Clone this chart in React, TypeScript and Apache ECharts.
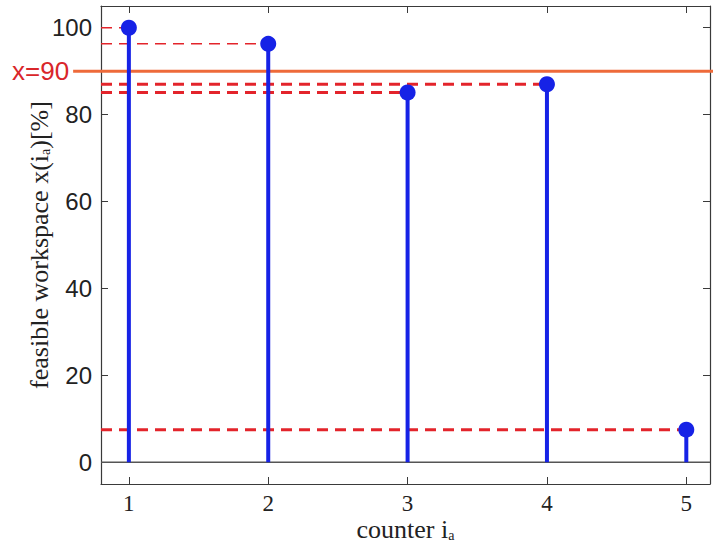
import React, { useEffect, useRef } from "react";
import * as echarts from "echarts";

const counters = [1, 2, 3, 4, 5];
const workspace = [100, 96.3, 85.1, 87.0, 7.5];
const threshold = 90;
const thresholdLabel = "x=90";
const yTicks = [0, 20, 40, 60, 80, 100];
const xTicks = [1, 2, 3, 4, 5];

const X_MIN = 0.8;
const X_MAX = 5.17;
const Y_MIN = -5;
const Y_MAX = 105;

export default function App() {
  const ref = useRef<HTMLDivElement>(null);
  useEffect(() => {
    if (!ref.current) return;
    const chart = echarts.init(ref.current, null, { renderer: "svg" });
    const axisColor = "#3a3a3a";
    const serif = "Liberation Serif";
    const sans = "Liberation Sans";

    const dashedSeries = counters.map((c, i) => ({
      type: "line",
      data: [
        [X_MIN, workspace[i]],
        [c, workspace[i]],
      ],
      symbol: "none",
      lineStyle: { color: "#e3242b", width: i < 2 ? 1.6 : 3, type: [11, 7] },
      z: 3,
      silent: true,
    }));

    const richTitle = {
      m: { fontFamily: serif, fontSize: 26, color: "#222" },
      s: { fontFamily: serif, fontSize: 14, color: "#222", padding: [12, 0, 0, 0] },
    };

    chart.setOption({
      animation: false,
      backgroundColor: "#ffffff",
      grid: { left: 101, right: 3, top: 6, bottom: 64, show: false, outerBoundsMode: "none", containLabel: false },
      xAxis: [
        {
          type: "value",
          min: X_MIN,
          max: X_MAX,
          position: "bottom",
          axisLine: { show: true, onZero: false, lineStyle: { color: axisColor, width: 1.2 } },
          axisTick: { show: true, inside: true, length: 7, customValues: xTicks, lineStyle: { color: axisColor } },
          axisLabel: {
            customValues: xTicks,
            fontFamily: serif,
            fontSize: 23,
            color: "#222",
            margin: 8,
          },
          splitLine: { show: false },
          name: "{m|counter i}{s|a}",
          nameLocation: "middle",
          nameGap: 32,
          nameMoveOverlap: false,
          nameTextStyle: { rich: richTitle },
        },
        {
          type: "value",
          min: X_MIN,
          max: X_MAX,
          position: "top",
          axisLine: { show: true, onZero: false, lineStyle: { color: axisColor, width: 1.2 } },
          axisTick: { show: true, inside: true, length: 7, customValues: xTicks, lineStyle: { color: axisColor } },
          axisLabel: { show: false },
          splitLine: { show: false },
        },
      ],
      yAxis: [
        {
          type: "value",
          min: Y_MIN,
          max: Y_MAX,
          position: "left",
          axisLine: { show: true, onZero: false, lineStyle: { color: axisColor, width: 1.2 } },
          axisTick: { show: true, inside: true, length: 7, customValues: yTicks, lineStyle: { color: axisColor } },
          axisLabel: {
            customValues: yTicks,
            fontFamily: sans,
            fontSize: 24,
            color: "#222",
            margin: 9,
          },
          splitLine: { show: false },
          name: "{m|feasible workspace x(i}{s|a}{m|)[%]}",
          nameLocation: "middle",
          nameGap: 49,
          nameRotate: 90,
          nameMoveOverlap: false,
          nameTextStyle: { rich: richTitle },
        },
        {
          type: "value",
          min: Y_MIN,
          max: Y_MAX,
          position: "right",
          axisLine: { show: true, onZero: false, lineStyle: { color: axisColor, width: 1.2 } },
          axisTick: { show: true, inside: true, length: 7, customValues: yTicks, lineStyle: { color: axisColor } },
          axisLabel: { show: false },
          splitLine: { show: false },
        },
      ],
      series: [
        {
          type: "line",
          data: [
            [X_MIN, 0],
            [X_MAX, 0],
          ],
          symbol: "none",
          lineStyle: { color: "#555555", width: 1.3 },
          z: 2,
          silent: true,
        },
        ...dashedSeries,
        {
          type: "custom",
          renderItem: (params: any, api: any) => {
            const x = api.value(0);
            const y = api.value(1);
            const p0 = api.coord([x, 0]);
            const p1 = api.coord([x, y]);
            return {
              type: "line",
              shape: { x1: p0[0], y1: p0[1], x2: p1[0], y2: p1[1] },
              style: { stroke: "#1622e6", lineWidth: 4 },
            };
          },
          data: counters.map((c, i) => [c, workspace[i]]),
          z: 4,
          silent: true,
        },
        {
          type: "scatter",
          data: counters.map((c, i) => [c, workspace[i]]),
          symbol: "circle",
          symbolSize: 16,
          itemStyle: { color: "#1622e6", opacity: 1 },
          z: 5,
          silent: true,
        },
      ],
    });

    // threshold line extends beyond the plot box, with its label on the left
    const yPix = chart.convertToPixel({ yAxisIndex: 0 }, threshold) as number;
    const xStart = chart.convertToPixel({ xAxisIndex: 0 }, 0.6) as number;
    const width = chart.getWidth();
    chart.setOption({
      graphic: [
        {
          type: "line",
          shape: { x1: xStart, y1: yPix, x2: width, y2: yPix },
          style: { stroke: "#ee6a3a", lineWidth: 3 },
          z: 3,
          silent: true,
        },
        {
          type: "text",
          x: xStart - 4,
          y: yPix,
          style: {
            text: thresholdLabel,
            fontFamily: sans,
            fontSize: 26,
            fill: "#d9262a",
            align: "right",
            verticalAlign: "middle",
          },
          silent: true,
        },
      ],
    });
    return () => chart.dispose();
  }, []);
  return <div ref={ref} style={{ width: 713, height: 548, position: "absolute", left: 0, top: 0 }} />;
}
